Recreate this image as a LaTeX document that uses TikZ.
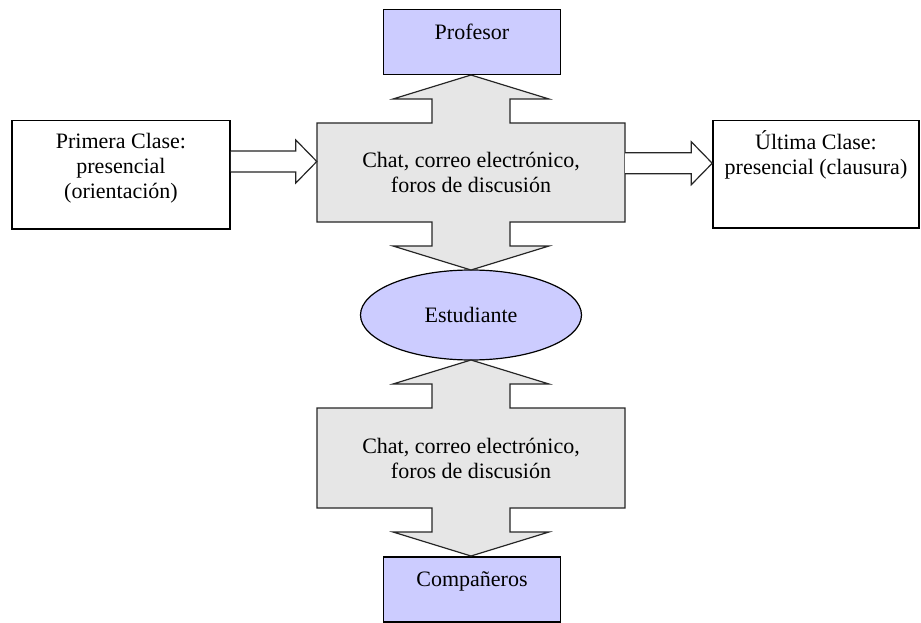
\documentclass[tikz,border=0pt]{standalone}
\usepackage{fontspec}
\setmainfont{Liberation Serif}
\usetikzlibrary{calc,shapes.geometric}

\definecolor{Lavanda}{HTML}{CCCCFF}
\definecolor{Gris}{HTML}{E6E6E6}

\tikzset{
  caja/.style={draw, line width=1.5, fill=Lavanda, inner xsep=0, inner ysep=0,
    minimum width=177, text height=30, text depth=35},
  cajaclase/.style={draw, line width=1.5, inner xsep=0, inner ysep=0, align=center},
  flujo/.style={draw=black!85, line width=1.2, fill=Gris, line join=miter},
  textoflujo/.style={inner sep=0, minimum width=308, minimum height=99, align=center,
    text height=43, text depth=2},
  flecha/.style={draw=black!85, line width=1.2, fill=white, line join=miter},
}

\begin{document}
\begin{tikzpicture}[x=1pt, y=-1pt, font=\fontsize{22}{25}\selectfont]
 \useasboundingbox (0,0) rectangle (921,623);

 %%%%%%%%%% Cajas %%%%%%%%%%
 \node[caja, anchor=north] (prof) at (472,9) {Profesor};
 \node[caja, anchor=north] (comp) at (472,556) {Compañeros};
 \node[ellipse, draw, line width=1.2, fill=Lavanda, minimum width=221, minimum height=90,
   inner sep=0] (est) at (471,315) {Estudiante};
 \node[cajaclase, minimum width=218, text height=78, text depth=30, anchor=north] (prim)
   at (121,120) {Primera Clase:\\presencial\\(orientación)};
 \node[cajaclase, minimum width=206, text height=54, text depth=53, anchor=north] (ult)
   at (816,120) {Última Clase:\\presencial (clausura)};

 %%%%%%%%%% Flechas dobles grises %%%%%%%%%%
 \foreach \t/\b/\n in {75/270/chatA, 360/556/chatB}{
   \draw[flujo] (471,\t) -- (549,\t+24) -- (510,\t+24) -- (510,\t+48) -- (625,\t+48)
     -- (625,\b-48) -- (510,\b-48) -- (510,\b-24) -- (549,\b-24) -- (471,\b)
     -- (393,\b-24) -- (432,\b-24) -- (432,\b-48) -- (317,\b-48) -- (317,\t+48)
     -- (432,\t+48) -- (432,\t+24) -- (393,\t+24) -- cycle;
   \node[textoflujo] (\n) at (471,{(\t+\b)/2})
     {Chat, correo electrónico,\\foros de discusión};
 }

 %%%%%%%%%% Flechas de clase %%%%%%%%%%
 \foreach \a/\b in {prim/chatA, chatA/ult}{
   \coordinate (punta) at ($(\b.west)+(0,-11)$);
   \coordinate (ini) at (punta -| \a.east);
   \draw[flecha] ($(ini)+(0,-10.5)$) -- ($(punta)+(-21,-10.5)$) -- ($(punta)+(-21,-21.5)$)
     -- (punta) -- ($(punta)+(-21,21.5)$) -- ($(punta)+(-21,10.5)$) -- ($(ini)+(0,10.5)$);
 }

\end{tikzpicture}
\end{document}
